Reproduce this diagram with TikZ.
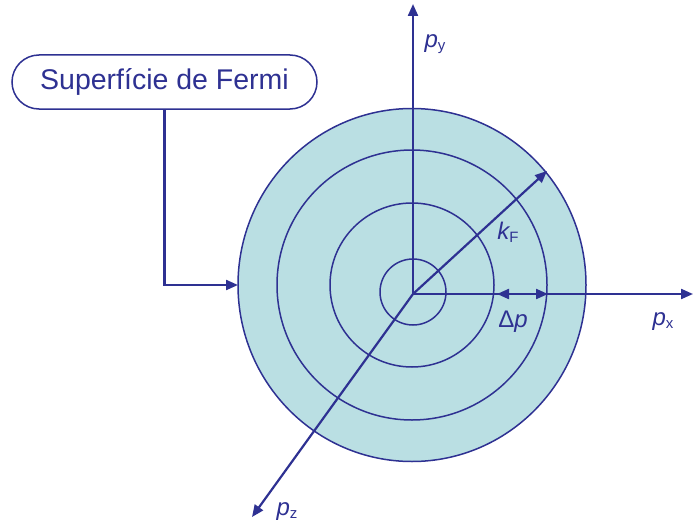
\documentclass[tikz,border=0pt]{standalone}
\usepackage{fontspec}
\setmainfont{Liberation Sans}
\usetikzlibrary{arrows.meta}
\definecolor{ink}{RGB}{46,49,146}
\definecolor{sea}{RGB}{186,223,227}
\newcommand\plab[2]{{\fontsize{24}{24}\selectfont\itshape #1}\raisebox{-0.3em}{\fontsize{15}{15}\selectfont #2}}
\begin{document}
\begin{tikzpicture}[x=1pt,y=-1pt, ink,
  axis/.style={line width=2.2pt},
  ring/.style={line width=1.5pt},
  tip/.style={-{Triangle[length=12pt,width=10pt]}},
  lab/.style={inner sep=0pt, text=ink}]
\useasboundingbox (0,0) rectangle (693,527);
\coordinate (C) at (412,285);
\coordinate (O) at (413,294);
% disc and rings
\fill[sea] (C) ellipse [x radius=174, y radius=176.5];
\draw[ring] (C) ellipse [x radius=174, y radius=176.5];
\draw[ring] (C) circle (135);
\draw[ring] (C) circle (82);
\draw[ring] (413,292) circle (33);
% label box and connector
\node[draw, line width=1.5pt, rounded corners=27pt, minimum width=305pt, minimum height=54pt, inner sep=0pt, text=ink] (lbl) at (164.5,82) {\fontsize{28.5}{30}\selectfont Superfície de Fermi};
\coordinate (L) at (238,285);
\draw[axis, tip] (lbl.south) |- (L);
% axes
\coordinate (Ytip) at (413,4);
\coordinate (Xtip) at (693,294);
\coordinate (Ztip) at (252,517);
\coordinate (K) at (547,171);
\coordinate (D1) at (497,294);
\coordinate (D2) at (548,294);
\draw[axis, tip] (O) -- (Ytip);
\draw[axis, tip] (O) -- (Xtip);
\draw[axis, tip] (O) -- (Ztip);
\draw[axis, tip] (O) -- (K);
\draw[axis, {Triangle[length=12pt,width=10pt]}-{Triangle[length=12pt,width=10pt]}] (D1) -- (D2);
% labels
\node[lab] (py) at (435,44) {\plab{p}{y}};
\node[lab] (px) at (663,322) {\plab{p}{x}};
\node[lab] (pz) at (287,512) {\plab{p}{z}};
\node[lab] (kf) at (508,232) {\plab{k}{F}};
\node[lab] (dp) at (513,322) {{\fontsize{24}{24}\selectfont Δ\itshape p}};
\end{tikzpicture}
\end{document}
